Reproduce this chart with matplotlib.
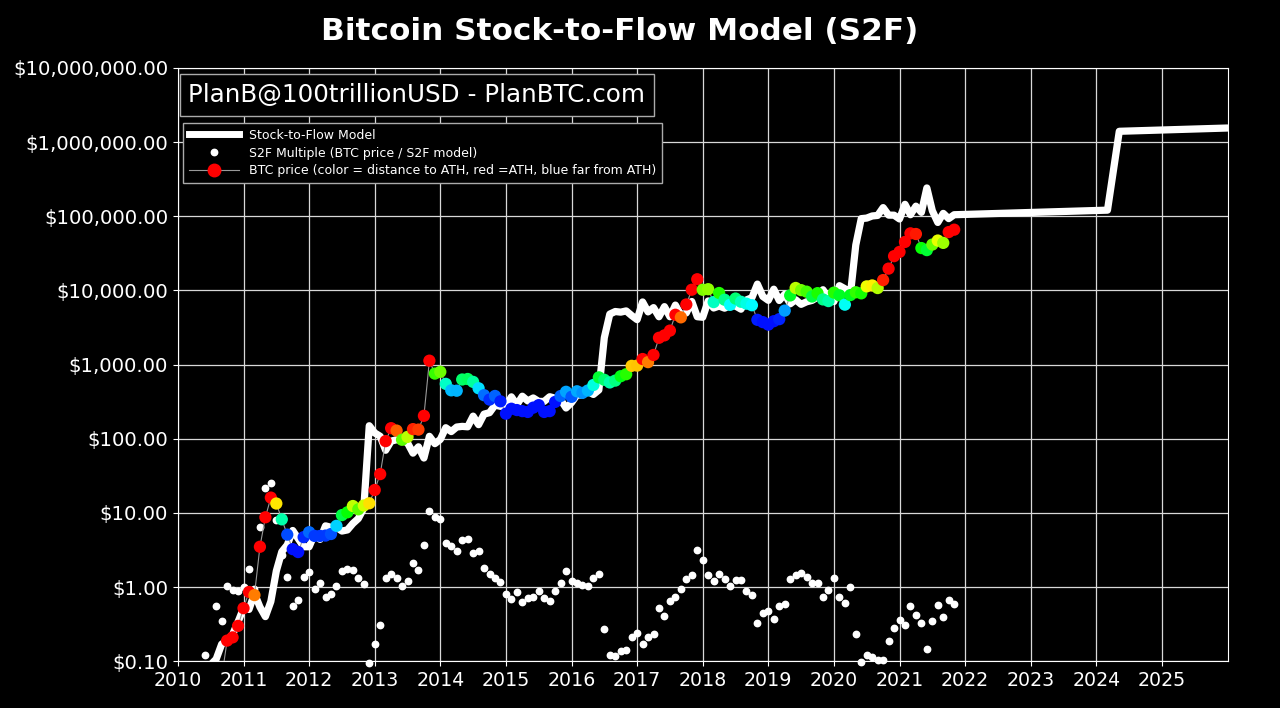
import numpy as np
import matplotlib
matplotlib.use("Agg")
import matplotlib.pyplot as plt
from matplotlib.lines import Line2D
from matplotlib.ticker import FuncFormatter

# month index since Jan 2010 (0 = Jan 2010)
months = np.arange(5, 143)

# BTC monthly price (USD), NaN where below chart / not available
btc_price = [
    np.nan, np.nan, 0.06, 0.06, 0.19, 0.21, 0.30,
    0.52, 0.86, 0.78, 3.5, 8.74, 16.1, 13.4, 8.2, 5.1, 3.25, 2.97, 4.72,
    5.5, 4.9, 4.9, 4.95, 5.2, 6.7, 9.35, 10.2, 12.4, 11.2, 12.6, 13.5,
    20.4, 33.4, 93, 139, 129, 97, 106, 135, 133, 204, 1130, 757,
    800, 550, 450, 445, 630, 640, 585, 480, 387, 338, 378, 320,
    218, 254, 244, 236, 230, 263, 284, 230, 236, 314, 377, 430,
    368, 437, 416, 448, 531, 673, 624, 575, 609, 698, 742, 963,
    970, 1190, 1080, 1350, 2300, 2480, 2875, 4700, 4340, 6470, 10230, 14160,
    10220, 10400, 6970, 9240, 7500, 6400, 7780, 7040, 6630, 6320, 4020, 3740,
    3460, 3850, 4100, 5350, 8570, 10800, 10100, 9630, 8290, 9200, 7570, 7190,
    9350, 8600, 6440, 8660, 9460, 9140, 11350, 11680, 10780, 13800, 19700, 29000,
    33100, 45100, 58900, 57700, 37300, 35000, 41600, 47100, 43800, 61300, 66000,
]

# S2F multiple (BTC price / S2F model)
s2f_multiple = [
    0.12, np.nan, 0.56, 0.35, 1.02, 0.91, 0.88,
    1.0, 1.78, 0.95, 6.5, 21.6, 25, 8.1, 2.7, 1.38, 0.56, 0.66, 1.36,
    1.58, 0.95, 1.12, 0.74, 0.81, 1.05, 1.65, 1.74, 1.72, 1.33, 1.09, 0.095,
    0.17, 0.31, 1.33, 1.5, 1.33, 1.02, 1.2, 2.1, 1.7, 3.7, 10.5, 8.8,
    8.2, 3.9, 3.6, 3.1, 4.3, 4.4, 2.9, 3.1, 1.8, 1.5, 1.33, 1.17,
    0.8, 0.69, 0.85, 0.63, 0.71, 0.74, 0.89, 0.72, 0.64, 0.89, 1.12, 1.65,
    1.2, 1.12, 1.07, 1.03, 1.34, 1.48, 0.27, 0.12, 0.117, 0.137, 0.14, 0.21,
    0.24, 0.17, 0.21, 0.23, 0.52, 0.41, 0.65, 0.74, 0.93, 1.3, 1.44, 3.2,
    2.35, 1.44, 1.2, 1.5, 1.3, 1.02, 1.26, 1.26, 0.89, 0.79, 0.33, 0.45,
    0.47, 0.37, 0.56, 0.6, 1.3, 1.44, 1.55, 1.37, 1.13, 1.13, 0.74, 0.91,
    1.32, 0.74, 0.61, 1.0, 0.23, 0.098, 0.12, 0.115, 0.105, 0.105, 0.19, 0.28,
    0.36, 0.31, 0.56, 0.42, 0.33, 0.145, 0.35, 0.57, 0.40, 0.66, 0.60,
]

# Stock-to-Flow model value (USD)
s2f_model = [
    0.08, 0.09, 0.107, 0.17, 0.19, 0.23, 0.34,
    0.52, 0.5, 0.82, 0.54, 0.40, 0.64, 1.65, 3.0, 3.7, 5.8, 4.5, 3.5,
    3.5, 5.2, 4.4, 6.7, 6.4, 6.4, 5.7, 5.9, 7.2, 8.4, 11.6, 150,
    120, 108, 70, 93, 97, 95, 88, 64, 78, 55, 108, 86,
    98, 141, 125, 144, 147, 145, 202, 155, 215, 225, 284, 274,
    272, 368, 287, 375, 324, 355, 319, 319, 369, 353, 337, 260,
    307, 390, 389, 435, 396, 455, 2311, 4800, 5200, 5100, 5300, 4590,
    4040, 7000, 5140, 5870, 4420, 6050, 4420, 6350, 4670, 4980, 7100, 4425,
    4350, 7220, 5800, 6160, 5770, 6270, 6170, 5590, 7450, 8000, 12180, 8300,
    7360, 10400, 7320, 8900, 6600, 7500, 6500, 7030, 7340, 8140, 10230, 7900,
    7080, 11600, 10560, 8660, 41000, 93000, 94600, 101000, 102700, 131000, 103700, 103500,
    92000, 145000, 105000, 137000, 113000, 241000, 119000, 82600, 109500, 93000, 105000,
]

# model projection after the last data month
future_years = [2022.0, 2024.17, 2024.35, 2026.0]
future_model = [106000, 121000, 1400000, 1550000]

years = 2010 + months / 12.0
price = np.array(btc_price, dtype=float)
multiple = np.array(s2f_multiple, dtype=float)

# distance to all-time high -> colour (red = ATH, blue = far from ATH)
ath_ratio = price / np.fmax.accumulate(price)
colors = plt.cm.hsv(np.clip((1 - np.nan_to_num(ath_ratio, nan=1.0)) * 0.92, 0, 0.667))

fig = plt.figure(figsize=(12.8, 7.08), dpi=100, facecolor="black")
ax = fig.add_axes([0.139, 0.066, 0.820, 0.838])
ax.set_facecolor("black")

model_x = np.concatenate([years, future_years])
model_y = np.concatenate([s2f_model, future_model])
ax.plot(model_x, model_y, color="white", lw=5.2, solid_capstyle="round", zorder=2)

ax.plot(years, multiple, "o", color="white", markersize=4.6, zorder=3, clip_on=False)

ax.plot(years, price, color="#999999", lw=0.8, zorder=4)
ok = ~np.isnan(price)
ax.scatter(years[ok], price[ok], c=colors[ok], s=78, edgecolors="none", zorder=5)

ax.set_yscale("log")
ax.set_ylim(0.1, 1e7)
ax.set_xlim(2010, 2026)
ax.set_xticks(range(2010, 2026))
ax.set_yticks([10.0 ** k for k in range(-1, 8)])
ax.yaxis.set_minor_locator(matplotlib.ticker.NullLocator())
ax.yaxis.set_major_formatter(FuncFormatter(lambda v, p: "${:,.2f}".format(v)))
ax.tick_params(colors="white")
ax.tick_params(axis="y", labelsize=14.2)
ax.tick_params(axis="x", labelsize=13.7)
for s in ax.spines.values():
    s.set_color("white")
ax.grid(True, color="#d8d8d8", lw=0.9)
ax.set_axisbelow(True)

fig.text(0.484, 0.955, "Bitcoin Stock-to-Flow Model (S2F)", color="white",
         fontsize=22.4, fontweight="bold", ha="center", va="center")

ax.text(0.010, 0.975, "PlanB@100trillionUSD - PlanBTC.com", transform=ax.transAxes,
        color="white", fontsize=17.7, va="top", ha="left",
        bbox=dict(facecolor="black", edgecolor="#aaaaaa", boxstyle="square,pad=0.36"))

handles = [
    Line2D([], [], color="white", lw=5),
    Line2D([], [], ls="none", marker="o", color="white", markersize=4.6),
    Line2D([], [], color="#999999", lw=0.8, marker="o", markersize=9,
           markerfacecolor="red", markeredgecolor="red"),
]
labels = [
    "Stock-to-Flow Model",
    "S2F Multiple (BTC price / S2F model)",
    "BTC price (color = distance to ATH, red =ATH, blue far from ATH)",
]
leg = ax.legend(handles, labels, loc="upper left", bbox_to_anchor=(0.005, 0.907),
                fontsize=9, handlelength=4, facecolor="black", edgecolor="#aaaaaa",
                framealpha=1, fancybox=False, borderaxespad=0, labelspacing=0.38,
                borderpad=0.45)
for t in leg.get_texts():
    t.set_color("white")

fig.savefig("out.png", dpi=100, facecolor="black")
